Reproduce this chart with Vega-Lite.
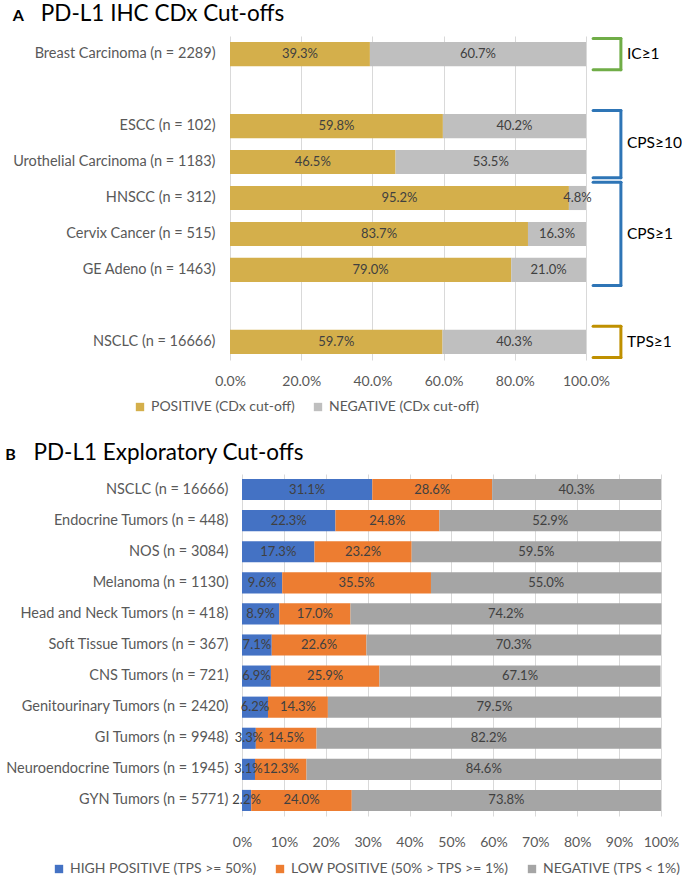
{
  "$schema": "https://vega.github.io/schema/vega-lite/v6.json",
  "background": "white",
  "padding": {"left": 5, "right": 0, "top": 2, "bottom": 0},
  "config": {
    "font": "Lato",
    "view": {"stroke": null},
    "axis": {"labelColor": "#595959", "labelFont": "Lato", "domain": false, "ticks": false, "gridColor": "#D9D9D9", "gridWidth": 1, "labelLimit": 400, "labelFlush": false},
    "legend": {"orient": "none", "direction": "horizontal", "symbolType": "square", "symbolSize": 70, "symbolStrokeWidth": 0, "labelFont": "Lato", "labelFontSize": 14, "labelColor": "#595959", "labelLimit": 400, "columnPadding": 16, "title": null},
    "title": {"anchor": "start", "frame": "bounds", "font": "Lato", "fontSize": 16, "fontWeight": "bold", "color": "#000000", "subtitleFont": "Lato", "subtitleFontSize": 22.5, "subtitleColor": "#000000", "subtitlePadding": -21}
  },
  "resolve": {"scale": {"color": "independent"}, "legend": {"color": "independent"}},
  "spacing": 27,
  "vconcat": [
    {
      "width": 356,
      "height": 324,
      "title": {"text": "A", "subtitle": "\u200b\u2002\u2002\u2009\u2009PD-L1 IHC CDx Cut-offs", "offset": 6},
      "data": {"values": [
        {"tumor": "Breast Carcinoma (n = 2289)", "result": "POSITIVE (CDx cut-off)", "k": 1, "pct": 0.393},
        {"tumor": "Breast Carcinoma (n = 2289)", "result": "NEGATIVE (CDx cut-off)", "k": 2, "pct": 0.607},
        {"tumor": "ESCC (n = 102)", "result": "POSITIVE (CDx cut-off)", "k": 1, "pct": 0.598},
        {"tumor": "ESCC (n = 102)", "result": "NEGATIVE (CDx cut-off)", "k": 2, "pct": 0.402},
        {"tumor": "Urothelial Carcinoma (n = 1183)", "result": "POSITIVE (CDx cut-off)", "k": 1, "pct": 0.465},
        {"tumor": "Urothelial Carcinoma (n = 1183)", "result": "NEGATIVE (CDx cut-off)", "k": 2, "pct": 0.535},
        {"tumor": "HNSCC (n = 312)", "result": "POSITIVE (CDx cut-off)", "k": 1, "pct": 0.952},
        {"tumor": "HNSCC (n = 312)", "result": "NEGATIVE (CDx cut-off)", "k": 2, "pct": 0.048},
        {"tumor": "Cervix Cancer (n = 515)", "result": "POSITIVE (CDx cut-off)", "k": 1, "pct": 0.837},
        {"tumor": "Cervix Cancer (n = 515)", "result": "NEGATIVE (CDx cut-off)", "k": 2, "pct": 0.163},
        {"tumor": "GE Adeno (n = 1463)", "result": "POSITIVE (CDx cut-off)", "k": 1, "pct": 0.79},
        {"tumor": "GE Adeno (n = 1463)", "result": "NEGATIVE (CDx cut-off)", "k": 2, "pct": 0.21},
        {"tumor": "NSCLC (n = 16666)", "result": "POSITIVE (CDx cut-off)", "k": 1, "pct": 0.597},
        {"tumor": "NSCLC (n = 16666)", "result": "NEGATIVE (CDx cut-off)", "k": 2, "pct": 0.403}
      ]},
      "layer": [
        {
          "mark": {"type": "bar"},
          "encoding": {
            "y": {"field": "tumor", "type": "nominal", "title": null,
              "scale": {"domain": ["Breast Carcinoma (n = 2289)", "gap1", "ESCC (n = 102)", "Urothelial Carcinoma (n = 1183)", "HNSCC (n = 312)", "Cervix Cancer (n = 515)", "GE Adeno (n = 1463)", "gap2", "NSCLC (n = 16666)"], "paddingInner": 0.33, "paddingOuter": 0.17},
              "axis": {"labelExpr": "indexof(datum.value, 'gap') == 0 ? '' : datum.value", "labelFontSize": 14.5, "labelPadding": 15, "grid": false}},
            "x": {"field": "pct", "type": "quantitative", "stack": "zero", "title": null,
              "scale": {"domain": [0, 1], "nice": false},
              "axis": {"format": ".1%", "values": [0, 0.2, 0.4, 0.6, 0.8, 1], "grid": true, "labelFontSize": 14, "labelPadding": 14}},
            "color": {"field": "result", "type": "nominal",
              "scale": {"domain": ["POSITIVE (CDx cut-off)", "NEGATIVE (CDx cut-off)"], "range": ["#D4AF4B", "#BFBFBF"]},
              "legend": {"legendX": -97, "legendY": 364}},
            "order": {"field": "k", "type": "quantitative"}
          }
        },
        {
          "mark": {"type": "text", "fontSize": 13, "color": "#404040", "baseline": "middle"},
          "encoding": {
            "y": {"field": "tumor", "type": "nominal"},
            "x": {"field": "pct", "type": "quantitative", "stack": "zero", "bandPosition": 0.5},
            "detail": {"field": "result"},
            "order": {"field": "k", "type": "quantitative"},
            "text": {"field": "pct", "type": "quantitative", "format": ".1%"}
          }
        },
        {
          "data": {"values": [
            {"cut": "IC≥1", "first": "Breast Carcinoma (n = 2289)", "last": "Breast Carcinoma (n = 2289)", "mid": "Breast Carcinoma (n = 2289)"},
            {"cut": "CPS≥10", "first": "ESCC (n = 102)", "last": "Urothelial Carcinoma (n = 1183)", "mid": null},
            {"cut": "CPS≥1", "first": "HNSCC (n = 312)", "last": "GE Adeno (n = 1463)", "mid": "Cervix Cancer (n = 515)"},
            {"cut": "TPS≥1", "first": "NSCLC (n = 16666)", "last": "NSCLC (n = 16666)", "mid": "NSCLC (n = 16666)"}
          ]},
          "layer": [
            {
              "mark": {"type": "rule", "strokeWidth": 3, "strokeCap": "round"},
              "encoding": {
                "x": {"datum": 1.098},
                "y": {"field": "first", "type": "nominal", "bandPosition": -0.15},
                "y2": {"field": "last", "bandPosition": 1.15},
                "stroke": {"field": "cut", "type": "nominal", "legend": null, "scale": {"domain": ["IC≥1", "CPS≥10", "CPS≥1", "TPS≥1"], "range": ["#70AD47", "#2E75B6", "#2E75B6", "#BF9000"]}}
              }
            },
            {
              "mark": {"type": "rule", "strokeWidth": 3, "strokeCap": "round"},
              "encoding": {
                "x": {"datum": 1.02},
                "x2": {"datum": 1.098},
                "y": {"field": "first", "type": "nominal", "bandPosition": -0.15},
                "stroke": {"field": "cut", "type": "nominal", "legend": null}
              }
            },
            {
              "mark": {"type": "rule", "strokeWidth": 3, "strokeCap": "round"},
              "encoding": {
                "x": {"datum": 1.02},
                "x2": {"datum": 1.098},
                "y": {"field": "last", "type": "nominal", "bandPosition": 1.15},
                "stroke": {"field": "cut", "type": "nominal", "legend": null}
              }
            },
            {
              "transform": [{"filter": "datum.mid != null"}],
              "mark": {"type": "text", "align": "left", "baseline": "middle", "fontSize": 15.5, "color": "#000000"},
              "encoding": {
                "x": {"datum": 1.115},
                "y": {"field": "mid", "type": "nominal", "bandPosition": 0.5},
                "text": {"field": "cut"}
              }
            },
            {
              "transform": [{"filter": "datum.mid == null"}],
              "mark": {"type": "text", "align": "left", "baseline": "middle", "fontSize": 15.5, "color": "#000000"},
              "encoding": {
                "x": {"datum": 1.115},
                "y": {"field": "first", "type": "nominal", "bandPosition": 1.21},
                "text": {"field": "cut"}
              }
            }
          ]
        }
      ]
    },
    {
      "width": 443,
      "height": 342,
      "title": {"text": "B", "subtitle": "\u200b\u2002\u2002\u2009\u2009PD-L1 Exploratory Cut-offs", "offset": 5},
      "data": {"values": [
        {"tumor": "NSCLC (n = 16666)", "k": 1, "result": "HIGH POSITIVE (TPS >= 50%)", "pct": 0.311},
        {"tumor": "NSCLC (n = 16666)", "k": 2, "result": "LOW POSITIVE (50% > TPS >= 1%)", "pct": 0.286},
        {"tumor": "NSCLC (n = 16666)", "k": 3, "result": "NEGATIVE (TPS < 1%)", "pct": 0.403},
        {"tumor": "Endocrine Tumors (n = 448)", "k": 1, "result": "HIGH POSITIVE (TPS >= 50%)", "pct": 0.223},
        {"tumor": "Endocrine Tumors (n = 448)", "k": 2, "result": "LOW POSITIVE (50% > TPS >= 1%)", "pct": 0.248},
        {"tumor": "Endocrine Tumors (n = 448)", "k": 3, "result": "NEGATIVE (TPS < 1%)", "pct": 0.529},
        {"tumor": "NOS (n = 3084)", "k": 1, "result": "HIGH POSITIVE (TPS >= 50%)", "pct": 0.173},
        {"tumor": "NOS (n = 3084)", "k": 2, "result": "LOW POSITIVE (50% > TPS >= 1%)", "pct": 0.232},
        {"tumor": "NOS (n = 3084)", "k": 3, "result": "NEGATIVE (TPS < 1%)", "pct": 0.595},
        {"tumor": "Melanoma (n = 1130)", "k": 1, "result": "HIGH POSITIVE (TPS >= 50%)", "pct": 0.096},
        {"tumor": "Melanoma (n = 1130)", "k": 2, "result": "LOW POSITIVE (50% > TPS >= 1%)", "pct": 0.355},
        {"tumor": "Melanoma (n = 1130)", "k": 3, "result": "NEGATIVE (TPS < 1%)", "pct": 0.55},
        {"tumor": "Head and Neck Tumors (n = 418)", "k": 1, "result": "HIGH POSITIVE (TPS >= 50%)", "pct": 0.089},
        {"tumor": "Head and Neck Tumors (n = 418)", "k": 2, "result": "LOW POSITIVE (50% > TPS >= 1%)", "pct": 0.17},
        {"tumor": "Head and Neck Tumors (n = 418)", "k": 3, "result": "NEGATIVE (TPS < 1%)", "pct": 0.742},
        {"tumor": "Soft Tissue Tumors (n = 367)", "k": 1, "result": "HIGH POSITIVE (TPS >= 50%)", "pct": 0.071},
        {"tumor": "Soft Tissue Tumors (n = 367)", "k": 2, "result": "LOW POSITIVE (50% > TPS >= 1%)", "pct": 0.226},
        {"tumor": "Soft Tissue Tumors (n = 367)", "k": 3, "result": "NEGATIVE (TPS < 1%)", "pct": 0.703},
        {"tumor": "CNS Tumors (n = 721)", "k": 1, "result": "HIGH POSITIVE (TPS >= 50%)", "pct": 0.069},
        {"tumor": "CNS Tumors (n = 721)", "k": 2, "result": "LOW POSITIVE (50% > TPS >= 1%)", "pct": 0.259},
        {"tumor": "CNS Tumors (n = 721)", "k": 3, "result": "NEGATIVE (TPS < 1%)", "pct": 0.671},
        {"tumor": "Genitourinary Tumors (n = 2420)", "k": 1, "result": "HIGH POSITIVE (TPS >= 50%)", "pct": 0.062},
        {"tumor": "Genitourinary Tumors (n = 2420)", "k": 2, "result": "LOW POSITIVE (50% > TPS >= 1%)", "pct": 0.143},
        {"tumor": "Genitourinary Tumors (n = 2420)", "k": 3, "result": "NEGATIVE (TPS < 1%)", "pct": 0.795},
        {"tumor": "GI Tumors (n = 9948)", "k": 1, "result": "HIGH POSITIVE (TPS >= 50%)", "pct": 0.033},
        {"tumor": "GI Tumors (n = 9948)", "k": 2, "result": "LOW POSITIVE (50% > TPS >= 1%)", "pct": 0.145},
        {"tumor": "GI Tumors (n = 9948)", "k": 3, "result": "NEGATIVE (TPS < 1%)", "pct": 0.822},
        {"tumor": "Neuroendocrine Tumors (n = 1945)", "k": 1, "result": "HIGH POSITIVE (TPS >= 50%)", "pct": 0.031},
        {"tumor": "Neuroendocrine Tumors (n = 1945)", "k": 2, "result": "LOW POSITIVE (50% > TPS >= 1%)", "pct": 0.123},
        {"tumor": "Neuroendocrine Tumors (n = 1945)", "k": 3, "result": "NEGATIVE (TPS < 1%)", "pct": 0.846},
        {"tumor": "GYN Tumors (n = 5771)", "k": 1, "result": "HIGH POSITIVE (TPS >= 50%)", "pct": 0.022},
        {"tumor": "GYN Tumors (n = 5771)", "k": 2, "result": "LOW POSITIVE (50% > TPS >= 1%)", "pct": 0.24},
        {"tumor": "GYN Tumors (n = 5771)", "k": 3, "result": "NEGATIVE (TPS < 1%)", "pct": 0.738}
      ]},
      "layer": [
        {
          "mark": {"type": "bar"},
          "encoding": {
            "y": {"field": "tumor", "type": "nominal", "title": null, "sort": null,
              "scale": {"paddingInner": 0.32, "paddingOuter": 0.16},
              "axis": {"labelFontSize": 14.5, "labelPadding": 2, "grid": false}},
            "x": {"field": "pct", "type": "quantitative", "stack": "zero", "title": null,
              "scale": {"domain": [0, 1], "nice": false, "padding": 12},
              "axis": {"format": ".0%", "values": [0, 0.1, 0.2, 0.3, 0.4, 0.5, 0.6, 0.7, 0.8, 0.9, 1], "grid": true, "labelFontSize": 14, "labelPadding": 19}},
            "color": {"field": "result", "type": "nominal",
              "scale": {"domain": ["HIGH POSITIVE (TPS >= 50%)", "LOW POSITIVE (50% > TPS >= 1%)", "NEGATIVE (TPS < 1%)"], "range": ["#4472C4", "#ED7D31", "#A5A5A5"]},
              "legend": {"legendX": -178, "legendY": 388}},
            "order": {"field": "k", "type": "quantitative"}
          }
        },
        {
          "mark": {"type": "text", "fontSize": 13, "color": "#404040", "baseline": "middle"},
          "encoding": {
            "y": {"field": "tumor", "type": "nominal", "sort": null},
            "x": {"field": "pct", "type": "quantitative", "stack": "zero", "bandPosition": 0.5},
            "detail": {"field": "result"},
            "order": {"field": "k", "type": "quantitative"},
            "text": {"field": "pct", "type": "quantitative", "format": ".1%"}
          }
        }
      ]
    }
  ]
}
